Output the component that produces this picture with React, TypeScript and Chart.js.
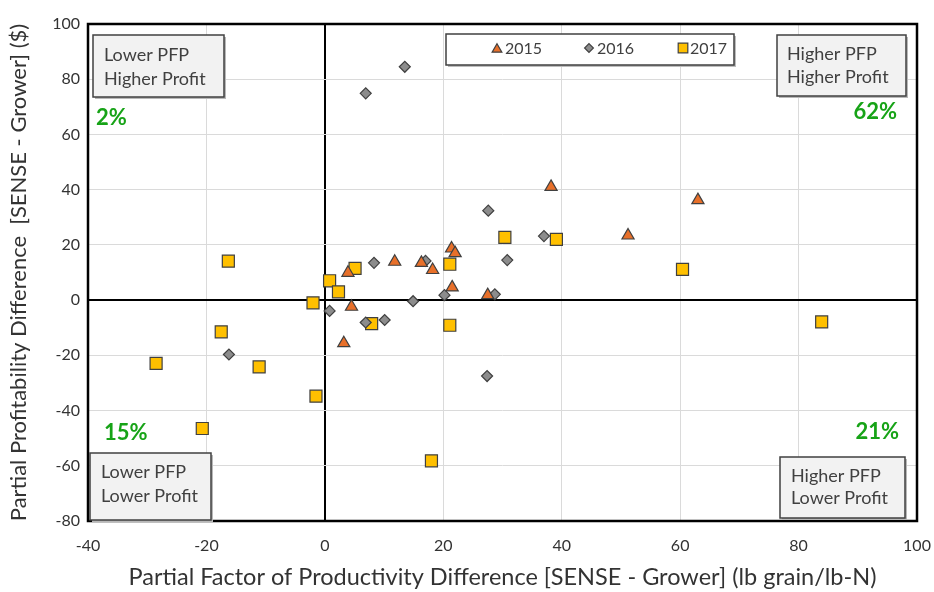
import React, { useEffect, useRef } from "react";
import { Chart, registerables } from "chart.js";
Chart.register(...registerables);

const FONT = "Lato, 'Open Sans', sans-serif";

const seriesNames = ["2015", "2016", "2017"];

const x2015 = [38.2, 63.0, 51.2, 21.4, 22.0, 11.8, 16.3, 18.2, 3.9, 21.5, 27.5, 4.5, 3.2];
const y2015 = [41.0, 36.2, 23.4, 18.7, 17.0, 13.9, 13.5, 10.9, 9.9, 4.6, 1.8, -2.4, -15.6];

const x2016 = [13.5, 6.9, 27.6, 37.0, 30.8, 8.3, 17.0, 20.2, 28.7, 14.9, 0.8, 10.1, 6.9, 27.4, -16.2];
const y2016 = [84.5, 74.9, 32.4, 23.2, 14.5, 13.5, 14.2, 1.8, 2.1, -0.4, -3.9, -7.2, -8.1, -27.5, -19.7];

const x2017 = [-16.3, -17.5, -28.5, -11.1, -1.5, -20.7, -2.0, 0.8, 2.3, 5.1, 7.9, 21.1, 21.1, 30.4, 39.1, 60.4, 83.9, 18.0];
const y2017 = [14.1, -11.5, -22.9, -24.2, -34.8, -46.5, -1.0, 7.0, 3.0, 11.5, -8.5, 13.0, -9.1, 22.7, 22.0, 11.1, -7.9, -58.2];

const quadrantLabels = [
  ["Lower PFP", "Higher Profit"],
  ["Higher PFP", "Higher Profit"],
  ["Higher PFP", "Lower Profit"],
  ["Lower PFP", "Lower Profit"],
];
const quadrantShares = ["2%", "62%", "21%", "15%"];

const xTitle = "Partial Factor of Productivity Difference [SENSE - Grower] (lb grain/lb-N)";
const yTitle = "Partial Profitability Difference  [SENSE - Grower] ($)";

const toPts = (xs: number[], ys: number[]) => xs.map((x, i) => ({ x, y: ys[i] }));

const EDGE = "#404040";
const COLORS = ["#E8702A", "#8C8C8C", "#FFC000"];
const STYLES = ["triangle", "rectRot", "rect"];
const RADII = [7, 5.5, 8.5];

function drawMarker(ctx: CanvasRenderingContext2D, style: string, x: number, y: number, r: number, fill: string) {
  ctx.save();
  ctx.beginPath();
  if (style === "triangle") {
    const h = r * 1.5;
    const w = r * 1.732;
    ctx.moveTo(x, y - r);
    ctx.lineTo(x + w / 2, y - r + h);
    ctx.lineTo(x - w / 2, y - r + h);
    ctx.closePath();
  } else if (style === "rectRot") {
    ctx.moveTo(x, y - r);
    ctx.lineTo(x + r, y);
    ctx.lineTo(x, y + r);
    ctx.lineTo(x - r, y);
    ctx.closePath();
  } else {
    const s = r * Math.SQRT1_2;
    ctx.rect(x - s, y - s, 2 * s, 2 * s);
  }
  ctx.fillStyle = fill;
  ctx.fill();
  ctx.lineWidth = 1.2;
  ctx.strokeStyle = EDGE;
  ctx.stroke();
  ctx.restore();
}

const overlay = {
  id: "overlay",
  afterDatasetsDraw(chart: any) {
    const ctx: CanvasRenderingContext2D = chart.ctx;
    const a = chart.chartArea;
    ctx.save();
    ctx.strokeStyle = "#000";
    ctx.lineWidth = 2.5;
    ctx.strokeRect(a.left, a.top, a.right - a.left, a.bottom - a.top);

    const box = (x: number, y: number, w: number, h: number, lines: string[], tx: number, ty: number[]) => {
      ctx.fillStyle = "#B8B8B8";
      ctx.fillRect(x + 2, y + 2, w, h);
      ctx.fillStyle = "#F2F2F2";
      ctx.fillRect(x, y, w, h);
      ctx.strokeStyle = EDGE;
      ctx.lineWidth = 1.5;
      ctx.strokeRect(x, y, w, h);
      ctx.fillStyle = "#404040";
      ctx.font = `18px ${FONT}`;
      ctx.textAlign = "left";
      ctx.textBaseline = "middle";
      lines.forEach((l, i) => ctx.fillText(l, tx, ty[i]));
    };
    box(93, 35, 131, 62, quadrantLabels[0], 104, [55, 79]);
    box(777, 35, 129, 61, quadrantLabels[1], 787, [54, 77]);
    box(780, 457, 125, 61, quadrantLabels[2], 791, [476, 498]);
    box(90, 453, 121, 67, quadrantLabels[3], 101, [472, 496]);

    ctx.fillStyle = "#17A317";
    ctx.font = `bold 22px ${FONT}`;
    ctx.textBaseline = "middle";
    ctx.textAlign = "left";
    ctx.fillText(quadrantShares[0], 96, 118);
    ctx.fillText(quadrantShares[3], 104, 433);
    ctx.textAlign = "right";
    ctx.fillText(quadrantShares[1], 897, 112);
    ctx.fillText(quadrantShares[2], 899, 432);

    ctx.fillStyle = "#BDBDBD";
    ctx.fillRect(448, 36, 288, 31);
    ctx.fillStyle = "#FFFFFF";
    ctx.fillRect(446, 34, 288, 31);
    ctx.strokeStyle = EDGE;
    ctx.lineWidth = 1.5;
    ctx.strokeRect(446, 34, 288, 31);
    const lx = [497, 589, 683];
    const tx = [505, 597, 690];
    ctx.font = `16px ${FONT}`;
    ctx.textAlign = "left";
    ctx.textBaseline = "middle";
    seriesNames.forEach((n, i) => {
      const r = RADII[i] * 0.8;
      drawMarker(ctx, STYLES[i], lx[i], 48 + (i === 0 ? r / 4 : 0), r, COLORS[i]);
      ctx.fillStyle = "#404040";
      ctx.fillText(n, tx[i], 49);
    });
    ctx.restore();
  },
};

export default function App() {
  const ref = useRef<HTMLCanvasElement | null>(null);
  useEffect(() => {
    document.body.style.margin = "0";
    if (!ref.current) return;
    const chart = new Chart(ref.current, {
      type: "scatter",
      data: {
        datasets: [toPts(x2015, y2015), toPts(x2016, y2016), toPts(x2017, y2017)].map((d, i) => ({
          label: seriesNames[i],
          data: d,
          pointStyle: STYLES[i] as any,
          pointRadius: RADII[i],
          pointHoverRadius: RADII[i],
          backgroundColor: COLORS[i],
          borderColor: EDGE,
          borderWidth: 1.2,
        })),
      },
      options: {
        animation: false,
        responsive: false,
        events: [],
        layout: { padding: { left: 0, top: 24, right: 17, bottom: 0 } },
        plugins: { legend: { display: false }, tooltip: { enabled: false } },
        scales: {
          x: {
            type: "linear",
            min: -40,
            max: 100,
            afterFit: (s: any) => { s.height = 71; s.paddingLeft = 0; s.paddingRight = 0; },
            ticks: { stepSize: 20, padding: 15, maxRotation: 0, color: "#333", font: { family: FONT, size: 16 } },
            grid: {
              drawTicks: false,
              color: (c: any) => (c.tick && c.tick.value === 0 ? "#000" : "#DADADA"),
              lineWidth: (c: any) => (c.tick && c.tick.value === 0 ? 2 : 1),
            },
            border: { display: false },
            title: { display: true, text: xTitle, color: "#333", font: { family: FONT, size: 23.5 }, padding: { top: 0, bottom: 0 } },
          },
          y: {
            type: "linear",
            min: -80,
            max: 100,
            afterFit: (s: any) => { s.width = 88; s.paddingTop = 0; s.paddingBottom = 0; },
            ticks: { stepSize: 20, padding: 8, color: "#333", font: { family: FONT, size: 16 } },
            grid: {
              drawTicks: false,
              color: (c: any) => (c.tick && c.tick.value === 0 ? "#000" : "#DADADA"),
              lineWidth: (c: any) => (c.tick && c.tick.value === 0 ? 2 : 1),
            },
            border: { display: false },
            title: { display: true, text: yTitle, color: "#333", font: { family: FONT, size: 22 }, padding: { top: 6, bottom: 0 } },
          },
        },
      },
      plugins: [overlay],
    });
    return () => chart.destroy();
  }, []);
  return (
    <div style={{ width: 934, height: 592 }}>
      <canvas ref={ref} width={934} height={592} style={{ width: 934, height: 592, display: "block" }} />
    </div>
  );
}
